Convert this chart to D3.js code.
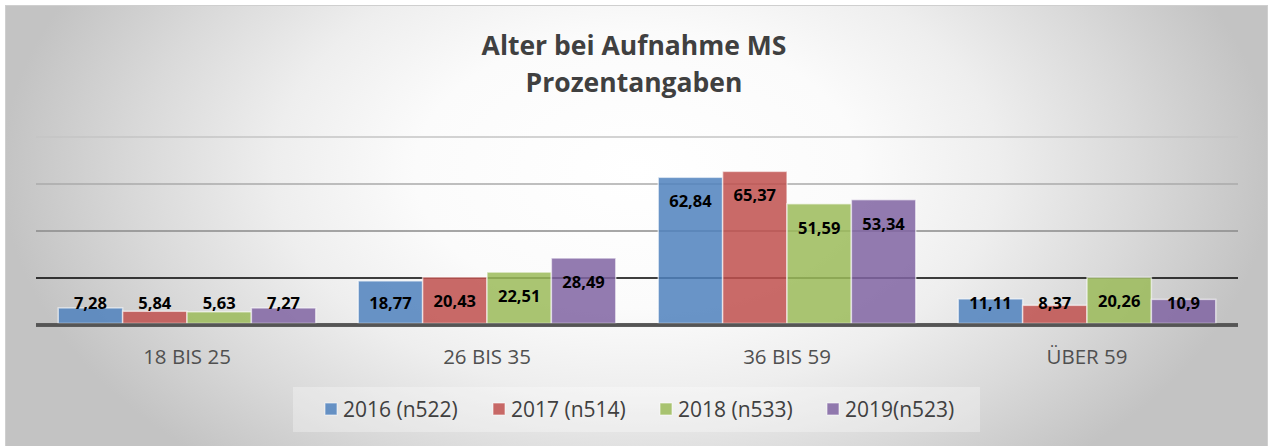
<!DOCTYPE html>
<html><head><meta charset="utf-8">
<script src="https://cdn.jsdelivr.net/npm/d3@7"></script>
<style>html,body{margin:0;padding:0;background:#fff;}svg{display:block;}</style>
</head><body>
<svg id="c" width="1269" height="446"></svg>
<script>
// ---- data ----
const categories = ["18 BIS 25", "26 BIS 35", "36 BIS 59", "ÜBER 59"];
const seriesNames = ["2016 (n522)", "2017 (n514)", "2018 (n533)", "2019(n523)"];
const v2016 = [7.28, 18.77, 62.84, 11.11];
const v2017 = [5.84, 20.43, 65.37, 8.37];
const v2018 = [5.63, 22.51, 51.59, 20.26];
const v2019 = [7.27, 28.49, 53.34, 10.9];
const yTicks = [0, 20, 40, 60, 80];
const titleLines = ["Alter bei Aufnahme MS", "Prozentangaben"];

// ---- styles ----
const colors = ["#4F81BD", "#C0504D", "#9BBB59", "#8064A2"];
const gridColors = ["#555555", "#000000", "#8a8a8a", "#aaaaaa", "#c4c4c4"];
const font = "'Open Sans', 'DejaVu Sans', sans-serif";

const seriesVals = [v2016, v2017, v2018, v2019];
const svg = d3.select("#c");
const defs = svg.append("defs");
const rg = defs.append("radialGradient").attr("id", "bg")
  .attr("gradientUnits", "userSpaceOnUse")
  .attr("cx", 637).attr("cy", 170).attr("r", 635)
  .attr("gradientTransform", "translate(0,170) scale(1,0.62) translate(0,-170)");
[[0, "#ffffff"], [0.35, "#fbfbfb"], [0.57, "#eeeeee"], [0.79, "#d9d9d9"], [1, "#c3c3c3"]]
  .forEach(([o, c]) => rg.append("stop").attr("offset", o).attr("stop-color", c));

svg.append("rect").attr("x", 5.5).attr("y", 5.5).attr("width", 1262).attr("height", 450)
  .attr("fill", "url(#bg)").attr("stroke", "#cfcfcf").attr("stroke-width", 1);

// title
svg.append("g").selectAll("text").data(titleLines).join("text")
  .attr("x", 634).attr("y", (d, i) => 55 + i * 37)
  .attr("text-anchor", "middle").attr("font-family", font).attr("font-weight", "bold")
  .attr("font-size", 26.5).attr("fill", "#404040").text(d => d);

const y = d3.scaleLinear().domain([0, 80]).range([325, 137]);
const x0 = d3.scaleBand().domain(categories).range([37, 1237]).paddingInner(0).paddingOuter(0);
const x1 = d3.scaleBand().domain(seriesNames).range([0, x0.bandwidth()]).paddingInner(0).paddingOuter(0.33);

// gridlines
svg.append("g").selectAll("line").data(yTicks).join("line")
  .attr("x1", 36).attr("x2", 1238)
  .attr("y1", d => y(d)).attr("y2", d => y(d))
  .attr("stroke", (d, i) => gridColors[i])
  .attr("stroke-width", d => d === 0 ? 3.5 : 1.6);

// bars
const groups = svg.append("g").selectAll("g").data(categories).join("g")
  .attr("transform", d => `translate(${x0(d)},0)`);
const cells = groups.selectAll("g").data((c, ci) => seriesNames.map((s, si) => ({s, si, v: seriesVals[si][ci]})))
  .join("g");
cells.append("rect")
  .attr("x", d => x1(d.s)).attr("width", x1.bandwidth())
  .attr("y", d => y(d.v)).attr("height", d => y(0) - 1.5 - y(d.v))
  .attr("fill", d => colors[d.si]).attr("fill-opacity", 0.85)
  .attr("stroke", "#ffffff").attr("stroke-opacity", 0.6).attr("stroke-width", 1.5);
cells.append("text")
  .attr("x", d => x1(d.s) + x1.bandwidth() / 2)
  .attr("y", d => Math.min(y(d.v) + 24, 303) + 6)
  .attr("text-anchor", "middle").attr("font-family", font).attr("font-weight", "bold")
  .attr("font-size", 16.5).attr("fill", "#000")
  .text(d => String(d.v).replace(".", ","));

// baseline redraw on top
svg.append("line").attr("x1", 36).attr("x2", 1238).attr("y1", y(0)).attr("y2", y(0))
  .attr("stroke", gridColors[0]).attr("stroke-width", 3.5);

// category labels
svg.append("g").selectAll("text").data(categories).join("text")
  .attr("x", d => x0(d) + x0.bandwidth() / 2).attr("y", 364)
  .attr("text-anchor", "middle").attr("font-family", font).attr("font-size", 20.5)
  .attr("fill", "#505050").text(d => d);

// legend
svg.append("rect").attr("x", 293).attr("y", 387).attr("width", 687).attr("height", 45)
  .attr("fill", "#ffffff").attr("fill-opacity", 0.3);
const legX = [325, 493, 660, 827];
const lg = svg.append("g").selectAll("g").data(seriesNames).join("g")
  .attr("transform", (d, i) => `translate(${legX[i]},0)`);
lg.append("rect").attr("x", 0).attr("y", 403).attr("width", 12).attr("height", 12)
  .attr("fill", (d, i) => colors[i]).attr("fill-opacity", 0.85)
  .attr("stroke", "#fff").attr("stroke-opacity", 0.6);
lg.append("text").attr("x", 18).attr("y", 417).attr("font-family", font).attr("font-size", 21)
  .attr("fill", "#404040").text(d => d);
</script>
</body></html>
